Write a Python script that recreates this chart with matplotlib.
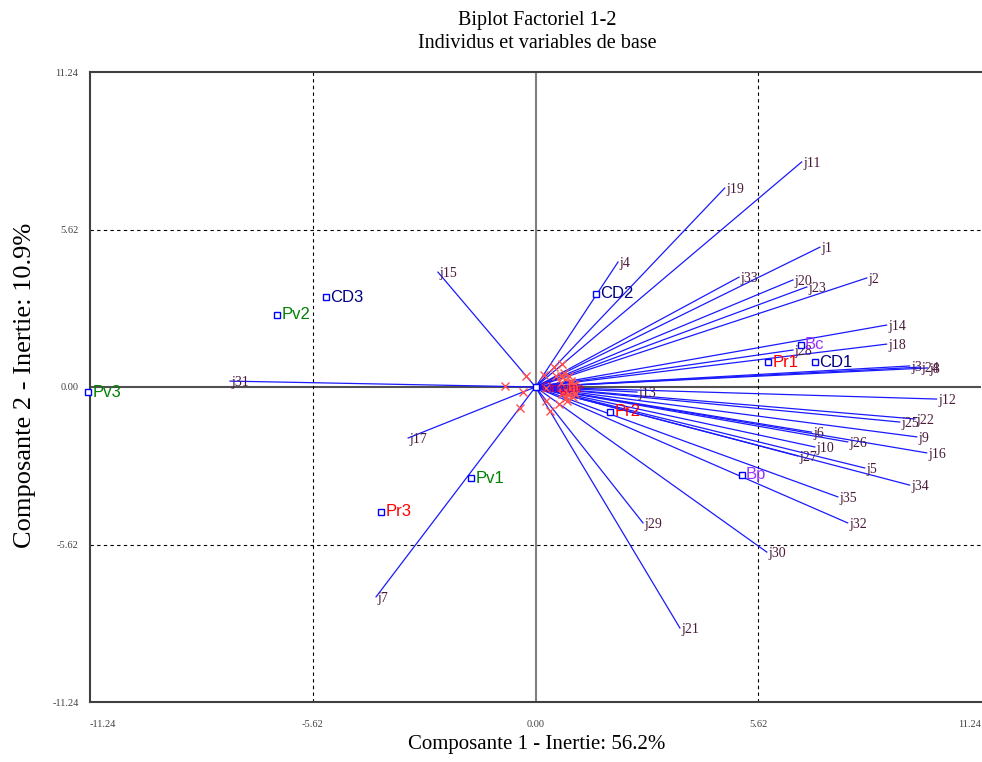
import matplotlib
matplotlib.use("Agg")
import matplotlib.pyplot as plt

# ---------------- data ----------------
ind_names = ["Pv3", "Pv2", "CD3", "Pv1", "Pr3", "CD2", "Pr2", "Pr1", "Bc", "CD1", "Bp"]
ind_x = [-11.27, -6.51, -5.28, -1.62, -3.89, 1.52, 1.88, 5.86, 6.69, 7.04, 5.20]
ind_y = [-0.18, 2.57, 3.21, -3.25, -4.46, 3.32, -0.89, 0.89, 1.50, 0.89, -3.14]
ind_groups = ["Pv", "Pv", "CD", "Pv", "Pr", "CD", "Pr", "Pr", "B", "CD", "B"]

var_names = ["j1", "j2", "j3", "j4", "j5", "j6", "j7", "j8", "j9", "j10",
             "j11", "j12", "j13", "j14", "j15", "j16", "j17", "j18", "j19", "j20",
             "j21", "j22", "j23", "j24", "j25", "j26", "j27", "j28", "j29", "j30",
             "j31", "j32", "j33", "j34", "j35"]
var_x = [7.17, 8.35, 9.43, 2.08, 8.30, 6.96, -4.02, 9.89, 9.61, 7.04,
         6.71, 10.11, 2.56, 8.85, -2.46, 9.86, -3.21, 8.85, 4.77, 6.49,
         3.64, 9.56, 6.84, 9.69, 9.18, 7.87, 6.61, 6.49, 2.71, 5.83,
         -7.70, 7.87, 5.13, 9.43, 7.62]
var_y = [4.99, 3.89, 0.75, 4.46, -2.89, -1.61, -7.49, 0.68, -1.78, -2.14,
         8.03, -0.43, -0.18, 2.21, 4.10, -2.35, -1.82, 1.53, 7.10, 3.82,
         -8.60, -1.14, 3.57, 0.71, -1.25, -1.96, -2.46, 1.32, -4.85, -5.89,
         0.21, -4.85, 3.92, -3.50, -3.92]

tick_vals = [-11.24, -5.62, 0.00, 5.62, 11.24]
tick_labels = ["-11.24", "-5.62", "0.00", "5.62", "11.24"]

title_text = "Biplot Factoriel 1-2\nIndividus et variables de base"
xlabel_text = "Composante 1 - Inertie: 56.2%"
ylabel_text = "Composante 2 - Inertie: 10.9%"

# ---------------- style ----------------
MARK_SCALE = 0.1
group_colors = {"Pv": "#008000", "CD": "#000080", "Pr": "#ff0000", "B": "#9933ff"}
serif = "Liberation Serif"
sans = "Liberation Sans"

fig = plt.figure(figsize=(9.82, 7.62), dpi=100)
W, H = 982, 762
ax = fig.add_axes([89.6 / W, (H - 702) / H, 891.8 / W, 630 / H])
ax.set_xlim(-11.24, 11.24)
ax.set_ylim(-11.24, 11.24)

# reference lines
ax.axhline(0, color="#505050", lw=1.5, zorder=1)
ax.axvline(0, color="#808080", lw=1.5, zorder=1)
for v in (-5.62, 5.62):
    ax.axhline(v, color="black", lw=0.8, ls=(0, (3, 3)), zorder=1)
    ax.axvline(v, color="black", lw=0.8, ls=(0, (3, 3)), zorder=1)

# variable vectors
for n, x, y in zip(var_names, var_x, var_y):
    ax.plot([0, x], [0, y], color="#1a1aff", lw=0.9, zorder=2)
    ax.annotate(n, (x, y), xytext=(1, -1), textcoords="offset points",
                ha="left", va="center", fontsize=10, family=serif,
                color="#4a1a3a", zorder=4)
    ax.plot([x * MARK_SCALE], [y * MARK_SCALE], marker="x", ms=6, mew=1,
            color="#ff5050", ls="none", zorder=3)

# origin
ax.plot([0], [0], marker="s", ms=4, mfc="white", mec="#0000ff", mew=1, zorder=3)
ax.annotate("Origine", (0, 0), xytext=(4, -1), textcoords="offset points",
            ha="left", va="center", fontsize=10, family=serif,
            color="#dd0055", zorder=5)

# individuals
for n, x, y, g in zip(ind_names, ind_x, ind_y, ind_groups):
    ax.plot([x], [y], marker="s", ms=4, mfc="white", mec="#0000ff", mew=1,
            zorder=5, clip_on=False)
    ax.annotate(n, (x, y), xytext=(3, 0), textcoords="offset points",
                ha="left", va="center", fontsize=12, family=sans,
                color=group_colors[g], zorder=6, annotation_clip=False)

# axes styling
for s in ("left", "bottom", "top"):
    ax.spines[s].set_color("#404040")
    ax.spines[s].set_linewidth(1.5)
ax.spines["right"].set_visible(False)

ax.set_xticks(tick_vals)
ax.set_xticklabels(tick_labels)
ax.set_yticks(tick_vals)
ax.set_yticklabels(tick_labels)
ax.tick_params(length=0, labelsize=7.5, labelcolor="#404040")
ax.tick_params(axis="x", pad=13)
ax.tick_params(axis="y", pad=8)
for lab in ax.get_xticklabels() + ax.get_yticklabels():
    lab.set_family(serif)
xl = ax.get_xticklabels()
xl[0].set_ha("left")
xl[-1].set_ha("right")

fig.text(537 / W, 1 - 32 / H, title_text, ha="center", va="center",
         fontsize=14.5, family=serif, linespacing=1.35)
fig.text(537 / W, 1 - 745 / H, xlabel_text, ha="center", va="center",
         fontsize=15, family=serif)
fig.text(25 / W, 1 - 385 / H, ylabel_text, ha="center", va="center",
         fontsize=19, family=serif, rotation=90)

fig.savefig("out.png", dpi=100)
